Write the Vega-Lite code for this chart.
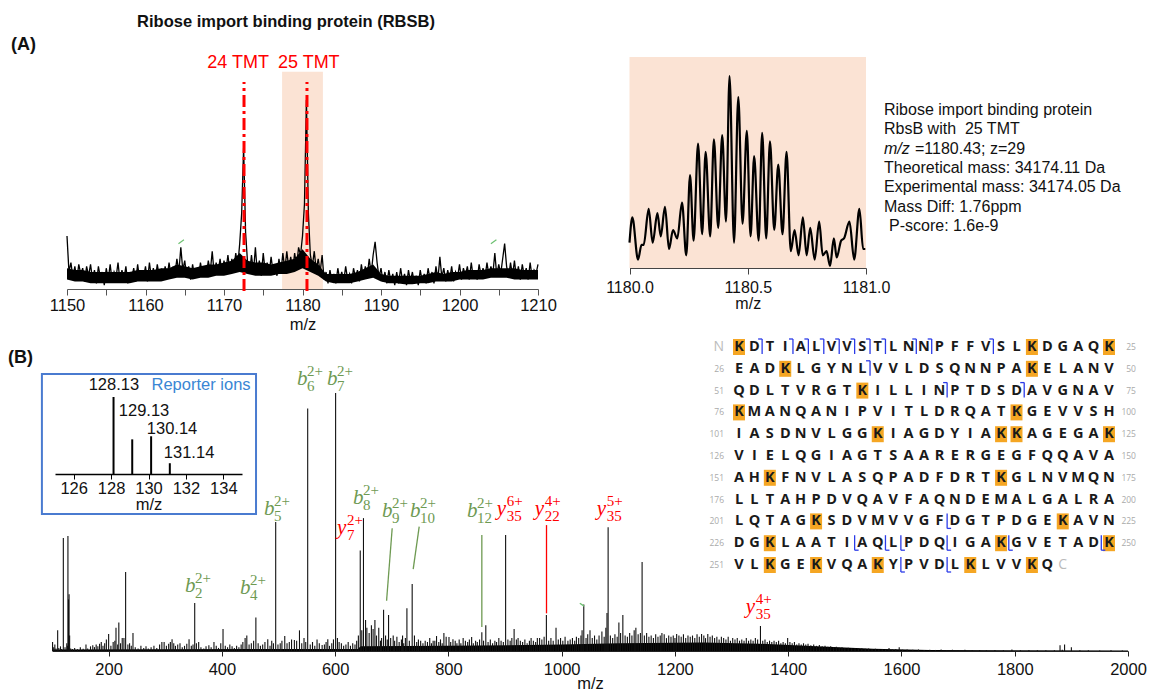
{
"$schema": "https://vega.github.io/schema/vega-lite/v6.json",
"width": 1155, "height": 692, "padding": 0, "autosize": {"type": "none"},
"background": "white",
"config": {"view": {"stroke": null}, "font": "Liberation Sans",
  "axis": {"grid": false, "labelFont": "Liberation Sans", "titleFont": "Liberation Sans", "labelColor": "#111", "titleColor": "#111", "domainColor": "#333", "tickColor": "#333", "titleFontWeight": "normal", "labelFlush": false, "zindex": 1, "labelOverlap": false}},
"datasets": {
 "a1": [{"m":1150,"i":28},{"m":1150.25,"i":9},{"m":1150.5,"i":14},{"m":1150.75,"i":6},{"m":1151,"i":12},{"m":1151.25,"i":5},{"m":1151.5,"i":13},{"m":1151.75,"i":8},{"m":1152,"i":11},{"m":1152.25,"i":4},{"m":1152.5,"i":12},{"m":1152.75,"i":7},{"m":1153,"i":13},{"m":1153.25,"i":5},{"m":1153.5,"i":10},{"m":1153.75,"i":3},{"m":1154,"i":12},{"m":1154.25,"i":6},{"m":1154.5,"i":9},{"m":1154.75,"i":2},{"m":1155,"i":11},{"m":1155.25,"i":5},{"m":1155.5,"i":13},{"m":1155.75,"i":4},{"m":1156,"i":9},{"m":1156.25,"i":6},{"m":1156.5,"i":14},{"m":1156.75,"i":4},{"m":1157,"i":10},{"m":1157.25,"i":5},{"m":1157.5,"i":12},{"m":1157.75,"i":3},{"m":1158,"i":9},{"m":1158.25,"i":6},{"m":1158.5,"i":11},{"m":1158.75,"i":4},{"m":1159,"i":13},{"m":1159.25,"i":5},{"m":1159.5,"i":10},{"m":1159.75,"i":6},{"m":1160,"i":12},{"m":1160.25,"i":4},{"m":1160.5,"i":14},{"m":1160.75,"i":6},{"m":1161,"i":11},{"m":1161.25,"i":5},{"m":1161.5,"i":13},{"m":1161.75,"i":7},{"m":1162,"i":10},{"m":1162.25,"i":5},{"m":1162.5,"i":12},{"m":1162.75,"i":6},{"m":1163,"i":14},{"m":1163.25,"i":7},{"m":1163.5,"i":11},{"m":1163.75,"i":8},{"m":1164,"i":16},{"m":1164.25,"i":9},{"m":1164.5,"i":22},{"m":1164.75,"i":10},{"m":1165,"i":15},{"m":1165.25,"i":6},{"m":1165.5,"i":12},{"m":1165.75,"i":5},{"m":1166,"i":13},{"m":1166.25,"i":7},{"m":1166.5,"i":11},{"m":1166.75,"i":6},{"m":1167,"i":14},{"m":1167.25,"i":8},{"m":1167.5,"i":12},{"m":1167.75,"i":7},{"m":1168,"i":15},{"m":1168.25,"i":9},{"m":1168.5,"i":20},{"m":1168.75,"i":8},{"m":1169,"i":14},{"m":1169.25,"i":9},{"m":1169.5,"i":16},{"m":1169.75,"i":8},{"m":1170,"i":15},{"m":1170.25,"i":10},{"m":1170.5,"i":18},{"m":1170.75,"i":9},{"m":1171,"i":16},{"m":1171.25,"i":11},{"m":1171.5,"i":19},{"m":1171.75,"i":12},{"m":1172,"i":24},{"m":1172.25,"i":40},{"m":1172.5,"i":75},{"m":1172.75,"i":30},{"m":1173,"i":14},{"m":1173.25,"i":8},{"m":1173.5,"i":18},{"m":1173.75,"i":9},{"m":1174,"i":22},{"m":1174.25,"i":8},{"m":1174.5,"i":15},{"m":1174.75,"i":7},{"m":1175,"i":19},{"m":1175.25,"i":9},{"m":1175.5,"i":14},{"m":1175.75,"i":8},{"m":1176,"i":17},{"m":1176.25,"i":9},{"m":1176.5,"i":13},{"m":1176.75,"i":7},{"m":1177,"i":16},{"m":1177.25,"i":9},{"m":1177.5,"i":19},{"m":1177.75,"i":10},{"m":1178,"i":20},{"m":1178.25,"i":11},{"m":1178.5,"i":17},{"m":1178.75,"i":10},{"m":1179,"i":19},{"m":1179.25,"i":12},{"m":1179.5,"i":22},{"m":1179.75,"i":18},{"m":1180,"i":28},{"m":1180.25,"i":45},{"m":1180.5,"i":100},{"m":1180.75,"i":40},{"m":1181,"i":18},{"m":1181.25,"i":12},{"m":1181.5,"i":20},{"m":1181.75,"i":10},{"m":1182,"i":16},{"m":1182.25,"i":9},{"m":1182.5,"i":18},{"m":1182.75,"i":5},{"m":1183,"i":9},{"m":1183.25,"i":3},{"m":1183.5,"i":10},{"m":1183.75,"i":4},{"m":1184,"i":8},{"m":1184.25,"i":3},{"m":1184.5,"i":11},{"m":1184.75,"i":5},{"m":1185,"i":9},{"m":1185.25,"i":4},{"m":1185.5,"i":12},{"m":1185.75,"i":5},{"m":1186,"i":8},{"m":1186.25,"i":3},{"m":1186.5,"i":11},{"m":1186.75,"i":6},{"m":1187,"i":10},{"m":1187.25,"i":4},{"m":1187.5,"i":13},{"m":1187.75,"i":6},{"m":1188,"i":12},{"m":1188.25,"i":7},{"m":1188.5,"i":16},{"m":1188.75,"i":8},{"m":1189,"i":18},{"m":1189.25,"i":25},{"m":1189.5,"i":14},{"m":1189.75,"i":6},{"m":1190,"i":11},{"m":1190.25,"i":4},{"m":1190.5,"i":9},{"m":1190.75,"i":3},{"m":1191,"i":10},{"m":1191.25,"i":4},{"m":1191.5,"i":8},{"m":1191.75,"i":2},{"m":1192,"i":9},{"m":1192.25,"i":3},{"m":1192.5,"i":11},{"m":1192.75,"i":4},{"m":1193,"i":8},{"m":1193.25,"i":2},{"m":1193.5,"i":10},{"m":1193.75,"i":4},{"m":1194,"i":9},{"m":1194.25,"i":3},{"m":1194.5,"i":7},{"m":1194.75,"i":2},{"m":1195,"i":10},{"m":1195.25,"i":4},{"m":1195.5,"i":8},{"m":1195.75,"i":3},{"m":1196,"i":11},{"m":1196.25,"i":5},{"m":1196.5,"i":9},{"m":1196.75,"i":3},{"m":1197,"i":12},{"m":1197.25,"i":5},{"m":1197.5,"i":17},{"m":1197.75,"i":6},{"m":1198,"i":11},{"m":1198.25,"i":4},{"m":1198.5,"i":10},{"m":1198.75,"i":5},{"m":1199,"i":12},{"m":1199.25,"i":4},{"m":1199.5,"i":9},{"m":1199.75,"i":6},{"m":1200,"i":13},{"m":1200.25,"i":5},{"m":1200.5,"i":11},{"m":1200.75,"i":7},{"m":1201,"i":12},{"m":1201.25,"i":5},{"m":1201.5,"i":14},{"m":1201.75,"i":6},{"m":1202,"i":10},{"m":1202.25,"i":5},{"m":1202.5,"i":13},{"m":1202.75,"i":7},{"m":1203,"i":11},{"m":1203.25,"i":6},{"m":1203.5,"i":14},{"m":1203.75,"i":7},{"m":1204,"i":12},{"m":1204.25,"i":8},{"m":1204.5,"i":19},{"m":1204.75,"i":7},{"m":1205,"i":13},{"m":1205.25,"i":8},{"m":1205.5,"i":16},{"m":1205.75,"i":24},{"m":1206,"i":12},{"m":1206.25,"i":6},{"m":1206.5,"i":14},{"m":1206.75,"i":7},{"m":1207,"i":15},{"m":1207.25,"i":6},{"m":1207.5,"i":12},{"m":1207.75,"i":5},{"m":1208,"i":13},{"m":1208.25,"i":7},{"m":1208.5,"i":11},{"m":1208.75,"i":5},{"m":1209,"i":14},{"m":1209.25,"i":6},{"m":1209.5,"i":10},{"m":1209.75,"i":8},{"m":1210,"i":13}],
 "band": [{"m":1150,"lo":5,"hi":11},{"m":1151,"lo":4,"hi":10},{"m":1152,"lo":4,"hi":10},{"m":1153,"lo":3,"hi":9},{"m":1154,"lo":3,"hi":9},{"m":1155,"lo":3,"hi":9},{"m":1156,"lo":3,"hi":9},{"m":1157,"lo":3,"hi":9},{"m":1158,"lo":3,"hi":9},{"m":1159,"lo":4,"hi":10},{"m":1160,"lo":4,"hi":10},{"m":1161,"lo":4,"hi":10},{"m":1162,"lo":4,"hi":11},{"m":1163,"lo":5,"hi":11},{"m":1164,"lo":6,"hi":13},{"m":1165,"lo":6,"hi":12},{"m":1166,"lo":5,"hi":11},{"m":1167,"lo":6,"hi":12},{"m":1168,"lo":6,"hi":13},{"m":1169,"lo":7,"hi":13},{"m":1170,"lo":7,"hi":14},{"m":1171,"lo":8,"hi":15},{"m":1172,"lo":9,"hi":19},{"m":1173,"lo":8,"hi":15},{"m":1174,"lo":7,"hi":14},{"m":1175,"lo":7,"hi":14},{"m":1176,"lo":7,"hi":13},{"m":1177,"lo":8,"hi":14},{"m":1178,"lo":8,"hi":15},{"m":1179,"lo":9,"hi":16},{"m":1180,"lo":11,"hi":21},{"m":1181,"lo":9,"hi":16},{"m":1182,"lo":7,"hi":13},{"m":1183,"lo":4,"hi":8},{"m":1184,"lo":3,"hi":8},{"m":1185,"lo":3,"hi":8},{"m":1186,"lo":3,"hi":8},{"m":1187,"lo":4,"hi":9},{"m":1188,"lo":5,"hi":11},{"m":1189,"lo":6,"hi":13},{"m":1190,"lo":4,"hi":8},{"m":1191,"lo":3,"hi":7},{"m":1192,"lo":3,"hi":7},{"m":1193,"lo":2.5,"hi":7},{"m":1194,"lo":2.5,"hi":7},{"m":1195,"lo":3,"hi":7},{"m":1196,"lo":3,"hi":8},{"m":1197,"lo":4,"hi":9},{"m":1198,"lo":4,"hi":8},{"m":1199,"lo":4,"hi":9},{"m":1200,"lo":5,"hi":9},{"m":1201,"lo":5,"hi":10},{"m":1202,"lo":5,"hi":10},{"m":1203,"lo":5,"hi":10},{"m":1204,"lo":6,"hi":11},{"m":1205,"lo":6,"hi":11},{"m":1206,"lo":6,"hi":11},{"m":1207,"lo":5,"hi":11},{"m":1208,"lo":5,"hi":10},{"m":1209,"lo":5,"hi":10},{"m":1210,"lo":5,"hi":10}],
 "a2": [{"m":1180.0,"i":12},{"m":1180.012,"i":24},{"m":1180.036,"i":4},{"m":1180.051,"i":11},{"m":1180.06,"i":11},{"m":1180.081,"i":28},{"m":1180.098,"i":12},{"m":1180.118,"i":26},{"m":1180.132,"i":15},{"m":1180.15,"i":29},{"m":1180.167,"i":9},{"m":1180.184,"i":18},{"m":1180.202,"i":14},{"m":1180.222,"i":31},{"m":1180.24,"i":6},{"m":1180.256,"i":44},{"m":1180.271,"i":13},{"m":1180.29,"i":59},{"m":1180.307,"i":16},{"m":1180.322,"i":55},{"m":1180.341,"i":15},{"m":1180.357,"i":61},{"m":1180.375,"i":19},{"m":1180.392,"i":63},{"m":1180.408,"i":22},{"m":1180.423,"i":91},{"m":1180.442,"i":12},{"m":1180.46,"i":81},{"m":1180.478,"i":21},{"m":1180.496,"i":65},{"m":1180.512,"i":15},{"m":1180.527,"i":53},{"m":1180.546,"i":13},{"m":1180.561,"i":64},{"m":1180.578,"i":14},{"m":1180.594,"i":60},{"m":1180.612,"i":18},{"m":1180.629,"i":49},{"m":1180.647,"i":16},{"m":1180.664,"i":55},{"m":1180.682,"i":8},{"m":1180.698,"i":18},{"m":1180.715,"i":6},{"m":1180.733,"i":24},{"m":1180.749,"i":6},{"m":1180.764,"i":19},{"m":1180.783,"i":4},{"m":1180.802,"i":22},{"m":1180.817,"i":6},{"m":1180.833,"i":8},{"m":1180.848,"i":1},{"m":1180.864,"i":14},{"m":1180.876,"i":5},{"m":1180.895,"i":13},{"m":1180.907,"i":14},{"m":1180.93,"i":22},{"m":1180.95,"i":4},{"m":1180.972,"i":28},{"m":1180.988,"i":9},{"m":1180.997,"i":9}],
 "peaks": [{"m":101,"i":3.5},{"m":103,"i":1.5},{"m":105,"i":2.5},{"m":107,"i":1},{"m":110,"i":8},{"m":112,"i":1.2},{"m":115,"i":1.8},{"m":117,"i":0.8},{"m":120,"i":43.8},{"m":123,"i":1.5},{"m":126.13,"i":3},{"m":127.13,"i":2},{"m":128.13,"i":44.6},{"m":129.13,"i":20},{"m":130.14,"i":22},{"m":131.14,"i":6},{"m":133,"i":1},{"m":136,"i":0.8},{"m":140,"i":1.2},{"m":145,"i":0.7},{"m":150,"i":1.5},{"m":155,"i":0.9},{"m":160,"i":2.5},{"m":163,"i":1},{"m":168,"i":1.8},{"m":172,"i":2.2},{"m":175,"i":1.5},{"m":178,"i":2.5},{"m":181,"i":1.8},{"m":184,"i":2.8},{"m":187,"i":3.5},{"m":190,"i":2},{"m":193,"i":3},{"m":196,"i":4.5},{"m":200,"i":6.6},{"m":204,"i":2},{"m":208,"i":3.5},{"m":211,"i":4},{"m":213,"i":9},{"m":216,"i":2.5},{"m":218,"i":11},{"m":221,"i":3},{"m":224,"i":5},{"m":227,"i":5},{"m":230,"i":30.6},{"m":234,"i":2.5},{"m":237,"i":3},{"m":240,"i":2},{"m":243,"i":7},{"m":247,"i":1.5},{"m":252,"i":1},{"m":257,"i":2},{"m":262,"i":1.2},{"m":266,"i":1.8},{"m":270,"i":1},{"m":275,"i":1.5},{"m":280,"i":2},{"m":285,"i":1.2},{"m":290,"i":2.5},{"m":294,"i":3.5},{"m":298,"i":3.5},{"m":302,"i":2},{"m":306,"i":2.8},{"m":309,"i":3.5},{"m":312,"i":4.6},{"m":315,"i":3},{"m":318,"i":2},{"m":322,"i":2.5},{"m":326,"i":3},{"m":330,"i":1.5},{"m":334,"i":2},{"m":338,"i":2.8},{"m":342,"i":4.6},{"m":346,"i":2},{"m":349,"i":2.5},{"m":352,"i":18.6},{"m":355,"i":3},{"m":359,"i":3.5},{"m":363,"i":1.5},{"m":368,"i":1},{"m":372,"i":1.8},{"m":377,"i":2.2},{"m":381,"i":1.5},{"m":386,"i":3.5},{"m":390,"i":2},{"m":394,"i":1.2},{"m":398,"i":3},{"m":402,"i":8.5},{"m":406,"i":2},{"m":410,"i":1.5},{"m":414,"i":2.5},{"m":418,"i":1.8},{"m":422,"i":1.2},{"m":426,"i":2},{"m":430,"i":1.5},{"m":434,"i":2.5},{"m":437,"i":3.5},{"m":441,"i":5},{"m":444,"i":6},{"m":448,"i":2.5},{"m":452,"i":3},{"m":456,"i":4},{"m":460,"i":13},{"m":464,"i":3},{"m":468,"i":2},{"m":472,"i":2.5},{"m":476,"i":3.5},{"m":481,"i":4.6},{"m":485,"i":2},{"m":488,"i":4},{"m":491,"i":3},{"m":495,"i":50},{"m":499,"i":2.5},{"m":503,"i":3},{"m":506,"i":4},{"m":511,"i":5.8},{"m":515,"i":3},{"m":519,"i":3.5},{"m":523,"i":4.5},{"m":528,"i":4.3},{"m":532,"i":4},{"m":537,"i":8},{"m":541,"i":3},{"m":545,"i":5},{"m":548,"i":3.5},{"m":551.5,"i":94},{"m":556,"i":2.5},{"m":560,"i":3.5},{"m":564,"i":2},{"m":568,"i":4.5},{"m":572,"i":3},{"m":577,"i":2.3},{"m":581,"i":2.5},{"m":584,"i":3.5},{"m":587,"i":4.6},{"m":590,"i":2},{"m":594,"i":3},{"m":597,"i":4.5},{"m":600.8,"i":100},{"m":604,"i":5},{"m":607,"i":3.5},{"m":611,"i":3},{"m":615,"i":2},{"m":619,"i":2.5},{"m":623,"i":3.5},{"m":627,"i":2},{"m":631,"i":3},{"m":635,"i":2.5},{"m":638,"i":4},{"m":641,"i":6},{"m":644.3,"i":39},{"m":647,"i":8},{"m":650,"i":51.5},{"m":653.7,"i":12},{"m":656,"i":9},{"m":660,"i":7},{"m":664,"i":10},{"m":667,"i":8.5},{"m":670.2,"i":12},{"m":673,"i":6},{"m":677,"i":9},{"m":680,"i":4},{"m":682,"i":5},{"m":685.5,"i":16},{"m":689,"i":6},{"m":692,"i":4.5},{"m":694.3,"i":14},{"m":698,"i":5},{"m":702.5,"i":6},{"m":705,"i":4},{"m":709,"i":5.5},{"m":713,"i":3.5},{"m":717,"i":4.5},{"m":719,"i":6},{"m":721,"i":3},{"m":724,"i":5},{"m":726.7,"i":16.6},{"m":731,"i":4},{"m":736,"i":26},{"m":740,"i":6},{"m":744,"i":3.5},{"m":747,"i":4.5},{"m":751,"i":4},{"m":755,"i":3},{"m":759,"i":4},{"m":763,"i":3.5},{"m":767,"i":5},{"m":770,"i":3},{"m":773,"i":4},{"m":776,"i":4},{"m":779,"i":5.8},{"m":783,"i":3.5},{"m":786,"i":4.5},{"m":789,"i":3},{"m":792,"i":7},{"m":796,"i":5.5},{"m":801,"i":5.4},{"m":804,"i":3.5},{"m":808,"i":4.6},{"m":812,"i":4},{"m":815,"i":3},{"m":819,"i":4.5},{"m":822,"i":3},{"m":826,"i":5},{"m":830,"i":4},{"m":834,"i":3.5},{"m":837,"i":4.5},{"m":841,"i":5.4},{"m":844,"i":3},{"m":848,"i":4},{"m":851,"i":3.5},{"m":855,"i":4.5},{"m":859,"i":7.3},{"m":862,"i":4},{"m":866,"i":10},{"m":870,"i":3.5},{"m":874,"i":4.5},{"m":878,"i":3},{"m":882,"i":4},{"m":885,"i":3.5},{"m":889,"i":5},{"m":893,"i":4},{"m":897,"i":3.5},{"m":901,"i":45},{"m":905,"i":4.5},{"m":909,"i":4},{"m":912,"i":5},{"m":916,"i":8.5},{"m":920,"i":4.5},{"m":923,"i":5},{"m":927,"i":4},{"m":931,"i":3.5},{"m":935,"i":4.5},{"m":939,"i":3},{"m":943,"i":4},{"m":946,"i":5},{"m":950,"i":4},{"m":954,"i":3.5},{"m":957,"i":5},{"m":961,"i":5},{"m":965,"i":4.5},{"m":969,"i":5.5},{"m":973,"i":14},{"m":977,"i":4},{"m":981,"i":5},{"m":985,"i":4},{"m":990,"i":9},{"m":994,"i":4.5},{"m":998,"i":5},{"m":1002,"i":4},{"m":1006,"i":5.5},{"m":1011,"i":4},{"m":1015,"i":4.5},{"m":1019,"i":5},{"m":1023,"i":4},{"m":1026,"i":5.5},{"m":1030,"i":5},{"m":1034,"i":6},{"m":1036,"i":8},{"m":1039,"i":18},{"m":1043,"i":5},{"m":1046,"i":6.5},{"m":1050,"i":8},{"m":1054,"i":5},{"m":1058,"i":6},{"m":1062,"i":4.5},{"m":1066,"i":6},{"m":1071,"i":7.6},{"m":1075,"i":5.5},{"m":1078,"i":9},{"m":1080,"i":14.7},{"m":1082,"i":48},{"m":1086,"i":6},{"m":1090,"i":5},{"m":1094,"i":6.5},{"m":1098,"i":5.5},{"m":1101,"i":11},{"m":1104,"i":7},{"m":1108,"i":14},{"m":1112,"i":6},{"m":1116,"i":5.5},{"m":1120,"i":7},{"m":1124,"i":6},{"m":1128,"i":8},{"m":1131,"i":9},{"m":1135,"i":6.5},{"m":1139,"i":7},{"m":1142,"i":34.5},{"m":1146,"i":6},{"m":1150,"i":7},{"m":1154,"i":5.5},{"m":1158,"i":6},{"m":1162,"i":5},{"m":1166,"i":6.5},{"m":1170,"i":5.5},{"m":1174,"i":6},{"m":1177,"i":7},{"m":1181,"i":6.5},{"m":1185,"i":5},{"m":1189,"i":6},{"m":1193,"i":5.5},{"m":1197,"i":6},{"m":1200,"i":5},{"m":1203,"i":6.6},{"m":1207,"i":6},{"m":1211,"i":5.5},{"m":1215,"i":6.5},{"m":1219,"i":5},{"m":1223,"i":6},{"m":1227,"i":5.5},{"m":1231,"i":6},{"m":1235,"i":5},{"m":1239,"i":6.5},{"m":1243,"i":5.5},{"m":1247,"i":6.6},{"m":1251,"i":6},{"m":1254,"i":5},{"m":1258,"i":6.6},{"m":1262,"i":5.5},{"m":1266,"i":6},{"m":1270,"i":5},{"m":1274,"i":5.5},{"m":1278,"i":4.5},{"m":1282,"i":5.5},{"m":1286,"i":5},{"m":1290,"i":4.5},{"m":1294,"i":5.5},{"m":1298,"i":4},{"m":1302,"i":5},{"m":1306,"i":4.5},{"m":1310,"i":5},{"m":1314,"i":4},{"m":1318,"i":4.5},{"m":1322,"i":4},{"m":1326,"i":5},{"m":1330,"i":4},{"m":1334,"i":4.5},{"m":1338,"i":4},{"m":1342,"i":5},{"m":1346,"i":4.5},{"m":1351,"i":9.7},{"m":1355,"i":4},{"m":1359,"i":4.5},{"m":1363,"i":3.5},{"m":1367,"i":4},{"m":1371,"i":3.5},{"m":1375,"i":4},{"m":1379,"i":3.5},{"m":1383,"i":4},{"m":1387,"i":3},{"m":1391,"i":3.5},{"m":1395,"i":3},{"m":1399,"i":5},{"m":1403,"i":3.5},{"m":1407,"i":3},{"m":1411,"i":3.5},{"m":1415,"i":2.5},{"m":1419,"i":3},{"m":1423,"i":2.5},{"m":1427,"i":3},{"m":1431,"i":2.5},{"m":1435,"i":2.8},{"m":1440,"i":2.2},{"m":1445,"i":2.5},{"m":1450,"i":2},{"m":1455,"i":2.3},{"m":1460,"i":1.8},{"m":1465,"i":2},{"m":1470,"i":1.6},{"m":1475,"i":1.8},{"m":1480,"i":1.5},{"m":1485,"i":1.6},{"m":1490,"i":1.3},{"m":1495,"i":1.5},{"m":1500,"i":1.2},{"m":1506,"i":1.3},{"m":1512,"i":1.1},{"m":1518,"i":1.2},{"m":1524,"i":1},{"m":1530,"i":1.1},{"m":1536,"i":0.9},{"m":1542,"i":1},{"m":1548,"i":0.8},{"m":1554,"i":0.9},{"m":1560,"i":0.7},{"m":1566,"i":0.8},{"m":1572,"i":0.7},{"m":1578,"i":1.2},{"m":1584,"i":0.6},{"m":1590,"i":0.8},{"m":1596,"i":1.5},{"m":1602,"i":0.5},{"m":1610,"i":0.6},{"m":1620,"i":0.5},{"m":1630,"i":0.6},{"m":1640,"i":0.4},{"m":1650,"i":0.5},{"m":1660,"i":0.4},{"m":1670,"i":0.6},{"m":1680,"i":0.4},{"m":1690,"i":0.5},{"m":1700,"i":0.3},{"m":1712,"i":0.5},{"m":1725,"i":0.3},{"m":1738,"i":0.4},{"m":1750,"i":0.3},{"m":1765,"i":0.4},{"m":1780,"i":0.3},{"m":1795,"i":0.6},{"m":1810,"i":0.3},{"m":1825,"i":0.4},{"m":1840,"i":0.3},{"m":1855,"i":0.3},{"m":1870,"i":0.3},{"m":1880,"i":2.2},{"m":1884,"i":0.5},{"m":1888,"i":2.5},{"m":1900,"i":1.5},{"m":1915,"i":0.3},{"m":1930,"i":0.3},{"m":1950,"i":0.2},{"m":1970,"i":0.3},{"m":1990,"i":0.2}],
 "grass": [{"m":100,"i":0.6},{"m":640,"i":0.8},{"m":645,"i":1.8},{"m":800,"i":2},{"m":1000,"i":2.5},{"m":1100,"i":3},{"m":1250,"i":3.3},{"m":1350,"i":2.8},{"m":1450,"i":1.8},{"m":1550,"i":0.9},{"m":1650,"i":0.4},{"m":1800,"i":0.25},{"m":2000,"i":0.2}],
 "ions": [{"t":"b","ion":"b","sup":"2+","sub":"2","x":334.8,"y":22.9},{"t":"b","ion":"b","sup":"2+","sub":"4","x":431.9,"y":22.1},{"t":"b","ion":"b","sup":"2+","sub":"5","x":474.2,"y":52.7},{"t":"b","ion":"b","sup":"2+","sub":"6","x":532.5,"y":103.1},{"t":"b","ion":"b","sup":"2+","sub":"7","x":585.4,"y":103.1},{"t":"y","ion":"y","sup":"2+","sub":"7","x":603.1,"y":45.3},{"t":"b","ion":"b","sup":"2+","sub":"8","x":631.3,"y":57.0},{"t":"b","ion":"b","sup":"2+","sub":"9","x":682.5,"y":51.9},{"t":"b","ion":"b","sup":"2+","sub":"10","x":732.0,"y":51.9},{"t":"b","ion":"b","sup":"2+","sub":"12","x":832.6,"y":51.9},{"t":"y","ion":"y","sup":"6+","sub":"35","x":885.5,"y":52.7},{"t":"y","ion":"y","sup":"4+","sub":"22","x":952.6,"y":52.7},{"t":"y","ion":"y","sup":"5+","sub":"35","x":1062.1,"y":52.7},{"t":"y","ion":"y","sup":"4+","sub":"35","x":1325.1,"y":14.7}],
 "leaders": [{"t":"b","x":700.7,"y":47.6,"x2":690.8,"y2":19.5},{"t":"b","x":748.4,"y":48.2,"x2":737.8,"y2":31.7},{"t":"b","x":859,"y":45,"x2":859,"y2":9.3},{"t":"y","x":973.2,"y":48.8,"x2":973.2,"y2":14.6},{"t":"g","x":1032,"y":18.5,"x2":1039.6,"y2":17.4}],
 "reporter": [{"m":128.13,"i":100,"lab":"128.13","lx":128.15,"ly":115.6},{"m":129.13,"i":45,"lab":"129.13","lx":129.76,"ly":81.8},{"m":130.14,"i":49,"lab":"130.14","lx":131.26,"ly":58.4},{"m":131.14,"i":14,"lab":"131.14","lx":132.17,"ly":27.3}],
 "info": [{"k":1,"t":"Ribose import binding protein"},{"k":2,"t":"RbsB with\u00a0 25 TMT"},{"k":4,"t":"Theoretical mass: 34174.11 Da"},{"k":5,"t":"Experimental mass: 34174.05 Da"},{"k":6,"t":"Mass Diff: 1.76ppm"}],
 "seq": [{"r":1,"c":1,"a":"K"},{"r":1,"c":2,"a":"D"},{"r":1,"c":3,"a":"T"},{"r":1,"c":4,"a":"I"},{"r":1,"c":5,"a":"A"},{"r":1,"c":6,"a":"L"},{"r":1,"c":7,"a":"V"},{"r":1,"c":8,"a":"V"},{"r":1,"c":9,"a":"S"},{"r":1,"c":10,"a":"T"},{"r":1,"c":11,"a":"L"},{"r":1,"c":12,"a":"N"},{"r":1,"c":13,"a":"N"},{"r":1,"c":14,"a":"P"},{"r":1,"c":15,"a":"F"},{"r":1,"c":16,"a":"F"},{"r":1,"c":17,"a":"V"},{"r":1,"c":18,"a":"S"},{"r":1,"c":19,"a":"L"},{"r":1,"c":20,"a":"K"},{"r":1,"c":21,"a":"D"},{"r":1,"c":22,"a":"G"},{"r":1,"c":23,"a":"A"},{"r":1,"c":24,"a":"Q"},{"r":1,"c":25,"a":"K"},
{"r":2,"c":1,"a":"E"},{"r":2,"c":2,"a":"A"},{"r":2,"c":3,"a":"D"},{"r":2,"c":4,"a":"K"},{"r":2,"c":5,"a":"L"},{"r":2,"c":6,"a":"G"},{"r":2,"c":7,"a":"Y"},{"r":2,"c":8,"a":"N"},{"r":2,"c":9,"a":"L"},{"r":2,"c":10,"a":"V"},{"r":2,"c":11,"a":"V"},{"r":2,"c":12,"a":"L"},{"r":2,"c":13,"a":"D"},{"r":2,"c":14,"a":"S"},{"r":2,"c":15,"a":"Q"},{"r":2,"c":16,"a":"N"},{"r":2,"c":17,"a":"N"},{"r":2,"c":18,"a":"P"},{"r":2,"c":19,"a":"A"},{"r":2,"c":20,"a":"K"},{"r":2,"c":21,"a":"E"},{"r":2,"c":22,"a":"L"},{"r":2,"c":23,"a":"A"},{"r":2,"c":24,"a":"N"},{"r":2,"c":25,"a":"V"},
{"r":3,"c":1,"a":"Q"},{"r":3,"c":2,"a":"D"},{"r":3,"c":3,"a":"L"},{"r":3,"c":4,"a":"T"},{"r":3,"c":5,"a":"V"},{"r":3,"c":6,"a":"R"},{"r":3,"c":7,"a":"G"},{"r":3,"c":8,"a":"T"},{"r":3,"c":9,"a":"K"},{"r":3,"c":10,"a":"I"},{"r":3,"c":11,"a":"L"},{"r":3,"c":12,"a":"L"},{"r":3,"c":13,"a":"I"},{"r":3,"c":14,"a":"N"},{"r":3,"c":15,"a":"P"},{"r":3,"c":16,"a":"T"},{"r":3,"c":17,"a":"D"},{"r":3,"c":18,"a":"S"},{"r":3,"c":19,"a":"D"},{"r":3,"c":20,"a":"A"},{"r":3,"c":21,"a":"V"},{"r":3,"c":22,"a":"G"},{"r":3,"c":23,"a":"N"},{"r":3,"c":24,"a":"A"},{"r":3,"c":25,"a":"V"},
{"r":4,"c":1,"a":"K"},{"r":4,"c":2,"a":"M"},{"r":4,"c":3,"a":"A"},{"r":4,"c":4,"a":"N"},{"r":4,"c":5,"a":"Q"},{"r":4,"c":6,"a":"A"},{"r":4,"c":7,"a":"N"},{"r":4,"c":8,"a":"I"},{"r":4,"c":9,"a":"P"},{"r":4,"c":10,"a":"V"},{"r":4,"c":11,"a":"I"},{"r":4,"c":12,"a":"T"},{"r":4,"c":13,"a":"L"},{"r":4,"c":14,"a":"D"},{"r":4,"c":15,"a":"R"},{"r":4,"c":16,"a":"Q"},{"r":4,"c":17,"a":"A"},{"r":4,"c":18,"a":"T"},{"r":4,"c":19,"a":"K"},{"r":4,"c":20,"a":"G"},{"r":4,"c":21,"a":"E"},{"r":4,"c":22,"a":"V"},{"r":4,"c":23,"a":"V"},{"r":4,"c":24,"a":"S"},{"r":4,"c":25,"a":"H"},
{"r":5,"c":1,"a":"I"},{"r":5,"c":2,"a":"A"},{"r":5,"c":3,"a":"S"},{"r":5,"c":4,"a":"D"},{"r":5,"c":5,"a":"N"},{"r":5,"c":6,"a":"V"},{"r":5,"c":7,"a":"L"},{"r":5,"c":8,"a":"G"},{"r":5,"c":9,"a":"G"},{"r":5,"c":10,"a":"K"},{"r":5,"c":11,"a":"I"},{"r":5,"c":12,"a":"A"},{"r":5,"c":13,"a":"G"},{"r":5,"c":14,"a":"D"},{"r":5,"c":15,"a":"Y"},{"r":5,"c":16,"a":"I"},{"r":5,"c":17,"a":"A"},{"r":5,"c":18,"a":"K"},{"r":5,"c":19,"a":"K"},{"r":5,"c":20,"a":"A"},{"r":5,"c":21,"a":"G"},{"r":5,"c":22,"a":"E"},{"r":5,"c":23,"a":"G"},{"r":5,"c":24,"a":"A"},{"r":5,"c":25,"a":"K"},
{"r":6,"c":1,"a":"V"},{"r":6,"c":2,"a":"I"},{"r":6,"c":3,"a":"E"},{"r":6,"c":4,"a":"L"},{"r":6,"c":5,"a":"Q"},{"r":6,"c":6,"a":"G"},{"r":6,"c":7,"a":"I"},{"r":6,"c":8,"a":"A"},{"r":6,"c":9,"a":"G"},{"r":6,"c":10,"a":"T"},{"r":6,"c":11,"a":"S"},{"r":6,"c":12,"a":"A"},{"r":6,"c":13,"a":"A"},{"r":6,"c":14,"a":"R"},{"r":6,"c":15,"a":"E"},{"r":6,"c":16,"a":"R"},{"r":6,"c":17,"a":"G"},{"r":6,"c":18,"a":"E"},{"r":6,"c":19,"a":"G"},{"r":6,"c":20,"a":"F"},{"r":6,"c":21,"a":"Q"},{"r":6,"c":22,"a":"Q"},{"r":6,"c":23,"a":"A"},{"r":6,"c":24,"a":"V"},{"r":6,"c":25,"a":"A"},
{"r":7,"c":1,"a":"A"},{"r":7,"c":2,"a":"H"},{"r":7,"c":3,"a":"K"},{"r":7,"c":4,"a":"F"},{"r":7,"c":5,"a":"N"},{"r":7,"c":6,"a":"V"},{"r":7,"c":7,"a":"L"},{"r":7,"c":8,"a":"A"},{"r":7,"c":9,"a":"S"},{"r":7,"c":10,"a":"Q"},{"r":7,"c":11,"a":"P"},{"r":7,"c":12,"a":"A"},{"r":7,"c":13,"a":"D"},{"r":7,"c":14,"a":"F"},{"r":7,"c":15,"a":"D"},{"r":7,"c":16,"a":"R"},{"r":7,"c":17,"a":"T"},{"r":7,"c":18,"a":"K"},{"r":7,"c":19,"a":"G"},{"r":7,"c":20,"a":"L"},{"r":7,"c":21,"a":"N"},{"r":7,"c":22,"a":"V"},{"r":7,"c":23,"a":"M"},{"r":7,"c":24,"a":"Q"},{"r":7,"c":25,"a":"N"},
{"r":8,"c":1,"a":"L"},{"r":8,"c":2,"a":"L"},{"r":8,"c":3,"a":"T"},{"r":8,"c":4,"a":"A"},{"r":8,"c":5,"a":"H"},{"r":8,"c":6,"a":"P"},{"r":8,"c":7,"a":"D"},{"r":8,"c":8,"a":"V"},{"r":8,"c":9,"a":"Q"},{"r":8,"c":10,"a":"A"},{"r":8,"c":11,"a":"V"},{"r":8,"c":12,"a":"F"},{"r":8,"c":13,"a":"A"},{"r":8,"c":14,"a":"Q"},{"r":8,"c":15,"a":"N"},{"r":8,"c":16,"a":"D"},{"r":8,"c":17,"a":"E"},{"r":8,"c":18,"a":"M"},{"r":8,"c":19,"a":"A"},{"r":8,"c":20,"a":"L"},{"r":8,"c":21,"a":"G"},{"r":8,"c":22,"a":"A"},{"r":8,"c":23,"a":"L"},{"r":8,"c":24,"a":"R"},{"r":8,"c":25,"a":"A"},
{"r":9,"c":1,"a":"L"},{"r":9,"c":2,"a":"Q"},{"r":9,"c":3,"a":"T"},{"r":9,"c":4,"a":"A"},{"r":9,"c":5,"a":"G"},{"r":9,"c":6,"a":"K"},{"r":9,"c":7,"a":"S"},{"r":9,"c":8,"a":"D"},{"r":9,"c":9,"a":"V"},{"r":9,"c":10,"a":"M"},{"r":9,"c":11,"a":"V"},{"r":9,"c":12,"a":"V"},{"r":9,"c":13,"a":"G"},{"r":9,"c":14,"a":"F"},{"r":9,"c":15,"a":"D"},{"r":9,"c":16,"a":"G"},{"r":9,"c":17,"a":"T"},{"r":9,"c":18,"a":"P"},{"r":9,"c":19,"a":"D"},{"r":9,"c":20,"a":"G"},{"r":9,"c":21,"a":"E"},{"r":9,"c":22,"a":"K"},{"r":9,"c":23,"a":"A"},{"r":9,"c":24,"a":"V"},{"r":9,"c":25,"a":"N"},
{"r":10,"c":1,"a":"D"},{"r":10,"c":2,"a":"G"},{"r":10,"c":3,"a":"K"},{"r":10,"c":4,"a":"L"},{"r":10,"c":5,"a":"A"},{"r":10,"c":6,"a":"A"},{"r":10,"c":7,"a":"T"},{"r":10,"c":8,"a":"I"},{"r":10,"c":9,"a":"A"},{"r":10,"c":10,"a":"Q"},{"r":10,"c":11,"a":"L"},{"r":10,"c":12,"a":"P"},{"r":10,"c":13,"a":"D"},{"r":10,"c":14,"a":"Q"},{"r":10,"c":15,"a":"I"},{"r":10,"c":16,"a":"G"},{"r":10,"c":17,"a":"A"},{"r":10,"c":18,"a":"K"},{"r":10,"c":19,"a":"G"},{"r":10,"c":20,"a":"V"},{"r":10,"c":21,"a":"E"},{"r":10,"c":22,"a":"T"},{"r":10,"c":23,"a":"A"},{"r":10,"c":24,"a":"D"},{"r":10,"c":25,"a":"K"},
{"r":11,"c":1,"a":"V"},{"r":11,"c":2,"a":"L"},{"r":11,"c":3,"a":"K"},{"r":11,"c":4,"a":"G"},{"r":11,"c":5,"a":"E"},{"r":11,"c":6,"a":"K"},{"r":11,"c":7,"a":"V"},{"r":11,"c":8,"a":"Q"},{"r":11,"c":9,"a":"A"},{"r":11,"c":10,"a":"K"},{"r":11,"c":11,"a":"Y"},{"r":11,"c":12,"a":"P"},{"r":11,"c":13,"a":"V"},{"r":11,"c":14,"a":"D"},{"r":11,"c":15,"a":"L"},{"r":11,"c":16,"a":"K"},{"r":11,"c":17,"a":"L"},{"r":11,"c":18,"a":"V"},{"r":11,"c":19,"a":"V"},{"r":11,"c":20,"a":"K"},{"r":11,"c":21,"a":"Q"}],
 "leftnum": [{"r":2,"n":"26"},{"r":3,"n":"51"},{"r":4,"n":"76"},{"r":5,"n":"101"},{"r":6,"n":"126"},{"r":7,"n":"151"},{"r":8,"n":"176"},{"r":9,"n":"201"},{"r":10,"n":"226"},{"r":11,"n":"251"}],
 "rightnum": [{"r":1,"n":"25"},{"r":2,"n":"50"},{"r":3,"n":"75"},{"r":4,"n":"100"},{"r":5,"n":"125"},{"r":6,"n":"150"},{"r":7,"n":"175"},{"r":8,"n":"200"},{"r":9,"n":"225"},{"r":10,"n":"250"}],
 "cleave": [{"r":1,"c":2.5,"t":"b"},{"r":1,"c":4.5,"t":"b"},{"r":1,"c":5.5,"t":"b"},{"r":1,"c":6.5,"t":"b"},{"r":1,"c":7.5,"t":"b"},{"r":1,"c":8.5,"t":"b"},{"r":1,"c":9.5,"t":"b"},{"r":1,"c":10.5,"t":"b"},{"r":1,"c":12.5,"t":"b"},{"r":1,"c":13.5,"t":"b"},{"r":1,"c":17.5,"t":"b"},{"r":2,"c":9.5,"t":"b"},{"r":3,"c":14.5,"t":"b"},{"r":3,"c":19.5,"t":"b"},{"r":9,"c":14.5,"t":"y"},{"r":10,"c":8.5,"t":"y"},{"r":10,"c":10.5,"t":"y"},{"r":10,"c":11.5,"t":"y"},{"r":10,"c":14.5,"t":"y"},{"r":10,"c":18.5,"t":"y"},{"r":10,"c":24.5,"t":"y"},{"r":11,"c":11.5,"t":"y"},{"r":11,"c":14.5,"t":"y"}]
},
"layer": [
 {"resolve": {"axis": {"x": "independent", "y": "independent"}},
  "layer": [
  {"data": {"values": [{}]}, "mark": {"type": "rect", "color": "#FBE3D4"},
   "encoding": {"x": {"datum": 1177.4, "type": "quantitative", "scale": {"domain": [1150,1210], "range": [67,538], "nice": false, "zero": false}, "axis": null},
     "x2": {"datum": 1182.6}, "y": {"datum": 0, "type": "quantitative", "scale": {"domain": [0,100], "range": [289,100], "nice": false, "zero": false}, "axis": null}, "y2": {"datum": 115}}},
  {"data": {"name": "band"}, "mark": {"type": "area", "color": "#000"},
   "encoding": {"x": {"field": "m", "type": "quantitative", "scale": {"domain": [1150,1210], "range": [67,538], "nice": false, "zero": false}, "axis": null},
     "y": {"field": "lo", "type": "quantitative", "scale": {"domain": [0,100], "range": [289,100], "nice": false, "zero": false}, "axis": null}, "y2": {"field": "hi"}}},
  {"data": {"name": "a1"}, "mark": {"type": "line", "color": "#000", "strokeWidth": 1.3},
   "encoding": {"x": {"field": "m", "type": "quantitative", "scale": {"domain": [1150,1210], "range": [67,538], "nice": false, "zero": false},
       "axis": {"orient": "bottom", "offset": -403, "values": [1150,1155,1160,1165,1170,1175,1180,1185,1190,1195,1200,1205,1210], "labelExpr": "datum.value % 10 === 0 ? datum.label : ''", "format": "d", "title": "m/z", "tickSize": 6, "labelPadding": 2, "titlePadding": 3, "labelFontSize": 16.5, "titleFontSize": 16.5, "domainColor": "#555", "tickColor": "#555"}},
     "y": {"field": "i", "type": "quantitative", "scale": {"domain": [0,100], "range": [289,100], "nice": false, "zero": false}, "axis": null}}},
  {"data": {"values": [{"x": 1172.55}, {"x": 1180.57}]}, "mark": {"type": "rule", "color": "#FF0000", "strokeWidth": 3, "strokeDash": [12,4,3,4]},
   "encoding": {"x": {"field": "x", "type": "quantitative", "scale": {"domain": [1150,1210], "range": [67,538], "nice": false, "zero": false}, "axis": null},
     "y": {"datum": -1, "type": "quantitative", "scale": {"domain": [0,100], "range": [289,100], "nice": false, "zero": false}, "axis": null}, "y2": {"datum": 109.5}}},
  {"data": {"values": [{"x":1164.2,"y":24,"x2":1164.9,"y2":26},{"x":1204,"y":24,"x2":1204.7,"y2":26}]}, "mark": {"type": "rule", "color": "#6CC070", "strokeWidth": 1.2},
   "encoding": {"x": {"field": "x", "type": "quantitative", "scale": {"domain": [1150,1210], "range": [67,538], "nice": false, "zero": false}, "axis": null}, "x2": {"field": "x2"},
     "y": {"field": "y", "type": "quantitative", "scale": {"domain": [0,100], "range": [289,100], "nice": false, "zero": false}, "axis": null}, "y2": {"field": "y2"}}},
  {"data": {"values": [{"t": "24 TMT", "x": 1171.8}, {"t": "25 TMT", "x": 1180.8}]}, "mark": {"type": "text", "color": "#FF0000", "fontSize": 18, "font": "Liberation Sans", "baseline": "middle", "align": "center"},
   "encoding": {"x": {"field": "x", "type": "quantitative", "scale": {"domain": [1150,1210], "range": [67,538], "nice": false, "zero": false}, "axis": null},
     "y": {"datum": 119.6, "type": "quantitative", "scale": {"domain": [0,100], "range": [289,100], "nice": false, "zero": false}, "axis": null}, "text": {"field": "t"}}},
  {"data": {"values": [{"t": "Ribose import binding protein (RBSB)"}]}, "mark": {"type": "text", "color": "#111", "fontSize": 16.5, "fontWeight": "bold", "font": "Liberation Sans", "baseline": "middle", "align": "center"},
   "encoding": {"x": {"datum": 1177.9, "type": "quantitative", "scale": {"domain": [1150,1210], "range": [67,538], "nice": false, "zero": false}, "axis": null},
     "y": {"datum": 141.3, "type": "quantitative", "scale": {"domain": [0,100], "range": [289,100], "nice": false, "zero": false}, "axis": null}, "text": {"field": "t"}}},
  {"data": {"values": [{"t": "(A)"}]}, "mark": {"type": "text", "color": "#111", "fontSize": 18, "fontWeight": "bold", "font": "Liberation Sans", "baseline": "middle", "align": "left"},
   "encoding": {"x": {"datum": 1142.87, "type": "quantitative", "scale": {"domain": [1150,1210], "range": [67,538], "nice": false, "zero": false}, "axis": null},
     "y": {"datum": 129.1, "type": "quantitative", "scale": {"domain": [0,100], "range": [289,100], "nice": false, "zero": false}, "axis": null}, "text": {"field": "t"}}}
 ]},
 {"resolve": {"axis": {"x": "independent", "y": "independent"}},
  "layer": [
  {"data": {"values": [{}]}, "mark": {"type": "rect", "color": "#FBE3D4"},
   "encoding": {"x": {"datum": 1180, "type": "quantitative", "scale": {"domain": [1180,1181], "range": [629.5,866], "nice": false, "zero": false}, "axis": null},
     "x2": {"datum": 1181}, "y": {"datum": 0, "type": "quantitative", "scale": {"domain": [0,100], "range": [268,57], "nice": false, "zero": false}, "axis": null}, "y2": {"datum": 100}}},
  {"data": {"name": "a2"}, "mark": {"type": "line", "color": "#000", "strokeWidth": 2.2, "interpolate": "monotone"},
   "encoding": {"x": {"field": "m", "type": "quantitative", "scale": {"domain": [1180,1181], "range": [629.5,866], "nice": false, "zero": false},
       "axis": {"orient": "bottom", "offset": -424, "values": [1180, 1180.5, 1181], "format": ".1f", "title": "m/z", "tickSize": 6, "labelPadding": 5, "titlePadding": 0, "labelFontSize": 16, "titleFontSize": 16, "domainColor": "#444", "tickColor": "#444"}},
     "y": {"field": "i", "type": "quantitative", "scale": {"domain": [0,100], "range": [268,57], "nice": false, "zero": false}, "axis": null}}}
 ]},
 {"layer": [
  {"data": {"name": "info"}, "mark": {"type": "text", "color": "#111", "fontSize": 16, "font": "Liberation Sans", "baseline": "middle", "align": "left"},
   "encoding": {"x": {"datum": 0, "type": "quantitative", "scale": {"domain": [0,1], "range": [884,1155]}, "axis": null},
     "y": {"field": "k", "type": "quantitative", "scale": {"domain": [1,7], "range": [110,226], "nice": false, "zero": false}, "axis": null}, "text": {"field": "t"}}},
  {"data": {"values": [{"k": 7, "t": "P-score: 1.6e-9"}]}, "mark": {"type": "text", "color": "#111", "fontSize": 16, "font": "Liberation Sans", "baseline": "middle", "align": "left", "dx": 5},
   "encoding": {"x": {"datum": 0, "type": "quantitative", "scale": {"domain": [0,1], "range": [884,1155]}, "axis": null},
     "y": {"field": "k", "type": "quantitative", "scale": {"domain": [1,7], "range": [110,226], "nice": false, "zero": false}, "axis": null}, "text": {"field": "t"}}},
  {"data": {"values": [{"k": 3, "t": "m/z"}]}, "mark": {"type": "text", "color": "#111", "fontSize": 16, "font": "Liberation Sans", "fontStyle": "italic", "baseline": "middle", "align": "left"},
   "encoding": {"x": {"datum": 0, "type": "quantitative", "scale": {"domain": [0,1], "range": [884,1155]}, "axis": null},
     "y": {"field": "k", "type": "quantitative", "scale": {"domain": [1,7], "range": [110,226], "nice": false, "zero": false}, "axis": null}, "text": {"field": "t"}}},
  {"data": {"values": [{"k": 3, "t": "=1180.43; z=29"}]}, "mark": {"type": "text", "color": "#111", "fontSize": 16, "font": "Liberation Sans", "baseline": "middle", "align": "left", "dx": 31},
   "encoding": {"x": {"datum": 0, "type": "quantitative", "scale": {"domain": [0,1], "range": [884,1155]}, "axis": null},
     "y": {"field": "k", "type": "quantitative", "scale": {"domain": [1,7], "range": [110,226], "nice": false, "zero": false}, "axis": null}, "text": {"field": "t"}}}
 ]},
 {"resolve": {"axis": {"x": "independent", "y": "independent"}},
  "layer": [
  {"data": {"name": "grass"}, "mark": {"type": "area", "color": "#000"},
   "encoding": {"x": {"field": "m", "type": "quantitative", "scale": {"domain": [100,2000], "range": [52,1128], "nice": false, "zero": false}, "axis": null},
     "y": {"field": "i", "type": "quantitative", "scale": {"domain": [0,100], "range": [651,393], "nice": false, "zero": false}, "axis": null}}},
  {"data": {"name": "peaks"}, "mark": {"type": "rule", "color": "#111", "strokeWidth": 1.1},
   "encoding": {"x": {"field": "m", "type": "quantitative", "scale": {"domain": [100,2000], "range": [52,1128], "nice": false, "zero": false},
       "axis": {"orient": "bottom", "offset": -41, "values": [200,400,600,800,1000,1200,1400,1600,1800,2000], "format": "d", "title": "m/z", "tickSize": 5, "labelPadding": 5, "titlePadding": -2, "labelFontSize": 16.5, "titleFontSize": 16.5, "domainColor": "#222", "tickColor": "#222"}},
     "y": {"field": "i", "type": "quantitative", "scale": {"domain": [0,100], "range": [651,393], "nice": false, "zero": false}, "axis": null}, "y2": {"datum": 0}}},
  {"data": {"name": "leaders"}, "mark": {"type": "rule", "strokeWidth": 1.3},
   "encoding": {"x": {"field": "x", "type": "quantitative", "scale": {"domain": [100,2000], "range": [52,1128], "nice": false, "zero": false}, "axis": null}, "x2": {"field": "x2"},
     "y": {"field": "y", "type": "quantitative", "scale": {"domain": [0,100], "range": [651,393], "nice": false, "zero": false}, "axis": null}, "y2": {"field": "y2"},
     "color": {"field": "t", "type": "nominal", "scale": {"domain": ["b","y","g"], "range": ["#6E9A52","#FF0000","#6CC070"]}, "legend": null}}},
  {"data": {"name": "ions"}, "mark": {"type": "text", "fontSize": 21, "font": "Liberation Serif", "fontStyle": "italic", "baseline": "alphabetic", "align": "left"},
   "encoding": {"x": {"field": "x", "type": "quantitative", "scale": {"domain": [100,2000], "range": [52,1128], "nice": false, "zero": false}, "axis": null},
     "y": {"field": "y", "type": "quantitative", "scale": {"domain": [0,100], "range": [651,393], "nice": false, "zero": false}, "axis": null}, "text": {"field": "ion"},
     "color": {"field": "t", "type": "nominal", "scale": {"domain": ["b","y","g"], "range": ["#548235","#FF0000","#6CC070"]}, "legend": null}}},
  {"data": {"name": "ions"}, "mark": {"type": "text", "fontSize": 15, "font": "Liberation Serif", "baseline": "alphabetic", "align": "left", "dx": 10, "dy": -9},
   "encoding": {"x": {"field": "x", "type": "quantitative", "scale": {"domain": [100,2000], "range": [52,1128], "nice": false, "zero": false}, "axis": null},
     "y": {"field": "y", "type": "quantitative", "scale": {"domain": [0,100], "range": [651,393], "nice": false, "zero": false}, "axis": null}, "text": {"field": "sup"},
     "color": {"field": "t", "type": "nominal", "scale": {"domain": ["b","y","g"], "range": ["#548235","#FF0000","#6CC070"]}, "legend": null}}},
  {"data": {"name": "ions"}, "mark": {"type": "text", "fontSize": 15, "font": "Liberation Serif", "baseline": "alphabetic", "align": "left", "dx": 10, "dy": 6},
   "encoding": {"x": {"field": "x", "type": "quantitative", "scale": {"domain": [100,2000], "range": [52,1128], "nice": false, "zero": false}, "axis": null},
     "y": {"field": "y", "type": "quantitative", "scale": {"domain": [0,100], "range": [651,393], "nice": false, "zero": false}, "axis": null}, "text": {"field": "sub"},
     "color": {"field": "t", "type": "nominal", "scale": {"domain": ["b","y","g"], "range": ["#548235","#FF0000","#6CC070"]}, "legend": null}}},
  {"data": {"values": [{"t": "(B)"}]}, "mark": {"type": "text", "color": "#111", "fontSize": 18, "fontWeight": "bold", "font": "Liberation Sans", "baseline": "middle", "align": "left"},
   "encoding": {"x": {"datum": 22.3, "type": "quantitative", "scale": {"domain": [100,2000], "range": [52,1128], "nice": false, "zero": false}, "axis": null},
     "y": {"datum": 113.6, "type": "quantitative", "scale": {"domain": [0,100], "range": [651,393], "nice": false, "zero": false}, "axis": null}, "text": {"field": "t"}}}
 ]},
 {"resolve": {"axis": {"x": "independent", "y": "independent"}},
  "layer": [
  {"data": {"values": [{}]}, "mark": {"type": "rect", "fill": null, "fillOpacity": 0, "stroke": "#4A7BD0", "strokeWidth": 2},
   "encoding": {"x": {"datum": 124.3, "type": "quantitative", "scale": {"domain": [125,135], "range": [55,242], "nice": false, "zero": false}, "axis": null},
     "x2": {"datum": 135.75}, "y": {"datum": -51.9, "type": "quantitative", "scale": {"domain": [0,100], "range": [474,397], "nice": false, "zero": false}, "axis": null}, "y2": {"datum": 129.9}}},
  {"data": {"name": "reporter"}, "mark": {"type": "rule", "color": "#000", "strokeWidth": 2},
   "encoding": {"x": {"field": "m", "type": "quantitative", "scale": {"domain": [125,135], "range": [55,242], "nice": false, "zero": false},
       "axis": {"orient": "bottom", "offset": -218, "values": [126,128,130,132,134], "format": "d", "title": "m/z", "tickSize": 5, "labelPadding": 1, "titlePadding": 0, "labelFontSize": 16.5, "titleFontSize": 16.5, "domainColor": "#000", "tickColor": "#000", "domainWidth": 1.5, "zindex": 2}},
     "y": {"field": "i", "type": "quantitative", "scale": {"domain": [0,100], "range": [474,397], "nice": false, "zero": false}, "axis": null}, "y2": {"datum": 0}}},
  {"data": {"name": "reporter"}, "mark": {"type": "text", "color": "#111", "fontSize": 16.5, "font": "Liberation Sans", "baseline": "middle", "align": "center"},
   "encoding": {"x": {"field": "lx", "type": "quantitative", "scale": {"domain": [125,135], "range": [55,242], "nice": false, "zero": false}, "axis": null},
     "y": {"field": "ly", "type": "quantitative", "scale": {"domain": [0,100], "range": [474,397], "nice": false, "zero": false}, "axis": null}, "text": {"field": "lab"}}},
  {"data": {"values": [{"t": "Reporter ions"}]}, "mark": {"type": "text", "color": "#3A86D4", "fontSize": 16.5, "font": "Liberation Sans", "baseline": "middle", "align": "center"},
   "encoding": {"x": {"datum": 132.81, "type": "quantitative", "scale": {"domain": [125,135], "range": [55,242], "nice": false, "zero": false}, "axis": null},
     "y": {"datum": 115.6, "type": "quantitative", "scale": {"domain": [0,100], "range": [474,397], "nice": false, "zero": false}, "axis": null}, "text": {"field": "t"}}}
 ]},
 {"layer": [
  {"data": {"name": "seq"}, "transform": [{"filter": "datum.a === 'K'"}], "mark": {"type": "point", "filled": true, "color": "#F5A623", "opacity": 1, "shape": "M-0.75,-1H0.75V1H-0.75Z", "size": 256},
   "encoding": {"x": {"field": "c", "type": "quantitative", "scale": {"domain": [1,25], "range": [739,1109], "nice": false, "zero": false}, "axis": null},
     "y": {"field": "r", "type": "quantitative", "scale": {"domain": [1,11], "range": [347,565], "nice": false, "zero": false}, "axis": null}}},
  {"data": {"name": "seq"}, "mark": {"type": "text", "color": "#1A1A1A", "fontSize": 14.5, "font": "Open Sans", "fontWeight": "bold", "baseline": "middle", "align": "center"},
   "encoding": {"x": {"field": "c", "type": "quantitative", "scale": {"domain": [1,25], "range": [739,1109], "nice": false, "zero": false}, "axis": null},
     "y": {"field": "r", "type": "quantitative", "scale": {"domain": [1,11], "range": [347,565], "nice": false, "zero": false}, "axis": null}, "text": {"field": "a"}}},
  {"data": {"name": "leftnum"}, "mark": {"type": "text", "color": "#AAAAAA", "fontSize": 8.5, "font": "Open Sans", "baseline": "middle", "align": "right"},
   "encoding": {"x": {"datum": 0.03, "type": "quantitative", "scale": {"domain": [1,25], "range": [739,1109], "nice": false, "zero": false}, "axis": null},
     "y": {"field": "r", "type": "quantitative", "scale": {"domain": [1,11], "range": [347,565], "nice": false, "zero": false}, "axis": null}, "text": {"field": "n"}}},
  {"data": {"name": "rightnum"}, "mark": {"type": "text", "color": "#AAAAAA", "fontSize": 8.5, "font": "Open Sans", "baseline": "middle", "align": "right"},
   "encoding": {"x": {"datum": 26.75, "type": "quantitative", "scale": {"domain": [1,25], "range": [739,1109], "nice": false, "zero": false}, "axis": null},
     "y": {"field": "r", "type": "quantitative", "scale": {"domain": [1,11], "range": [347,565], "nice": false, "zero": false}, "axis": null}, "text": {"field": "n"}}},
  {"data": {"values": [{"c": 0.03, "r": 1, "t": "N"}]}, "mark": {"type": "text", "color": "#BBBBBB", "fontSize": 14, "font": "Open Sans", "baseline": "middle", "align": "right"},
   "encoding": {"x": {"field": "c", "type": "quantitative", "scale": {"domain": [1,25], "range": [739,1109], "nice": false, "zero": false}, "axis": null},
     "y": {"field": "r", "type": "quantitative", "scale": {"domain": [1,11], "range": [347,565], "nice": false, "zero": false}, "axis": null}, "text": {"field": "t"}}},
  {"data": {"values": [{"c": 22, "r": 11, "t": "C"}]}, "mark": {"type": "text", "color": "#BBBBBB", "fontSize": 14, "font": "Open Sans", "baseline": "middle", "align": "center"},
   "encoding": {"x": {"field": "c", "type": "quantitative", "scale": {"domain": [1,25], "range": [739,1109], "nice": false, "zero": false}, "axis": null},
     "y": {"field": "r", "type": "quantitative", "scale": {"domain": [1,11], "range": [347,565], "nice": false, "zero": false}, "axis": null}, "text": {"field": "t"}}},
  {"data": {"name": "cleave"}, "mark": {"type": "rule", "color": "#2B3BE8", "strokeWidth": 1.3, "yOffset": -8, "y2Offset": 7},
   "encoding": {"x": {"field": "c", "type": "quantitative", "scale": {"domain": [1,25], "range": [739,1109], "nice": false, "zero": false}, "axis": null},
     "y": {"field": "r", "type": "quantitative", "scale": {"domain": [1,11], "range": [347,565], "nice": false, "zero": false}, "axis": null}, "y2": {"field": "r"}}},
  {"data": {"name": "cleave"}, "transform": [{"filter": "datum.t === 'b'"}], "mark": {"type": "rule", "color": "#2B3BE8", "strokeWidth": 1.3, "xOffset": -4, "x2Offset": 0, "yOffset": -8, "y2Offset": -8},
   "encoding": {"x": {"field": "c", "type": "quantitative", "scale": {"domain": [1,25], "range": [739,1109], "nice": false, "zero": false}, "axis": null}, "x2": {"field": "c"},
     "y": {"field": "r", "type": "quantitative", "scale": {"domain": [1,11], "range": [347,565], "nice": false, "zero": false}, "axis": null}, "y2": {"field": "r"}}},
  {"data": {"name": "cleave"}, "transform": [{"filter": "datum.t === 'y'"}], "mark": {"type": "rule", "color": "#2B3BE8", "strokeWidth": 1.3, "xOffset": 0, "x2Offset": 4, "yOffset": 7, "y2Offset": 7},
   "encoding": {"x": {"field": "c", "type": "quantitative", "scale": {"domain": [1,25], "range": [739,1109], "nice": false, "zero": false}, "axis": null}, "x2": {"field": "c"},
     "y": {"field": "r", "type": "quantitative", "scale": {"domain": [1,11], "range": [347,565], "nice": false, "zero": false}, "axis": null}, "y2": {"field": "r"}}}
 ]}
],
"resolve": {"scale": {"x": "independent", "y": "independent", "color": "independent"}, "axis": {"x": "independent", "y": "independent"}}
}
